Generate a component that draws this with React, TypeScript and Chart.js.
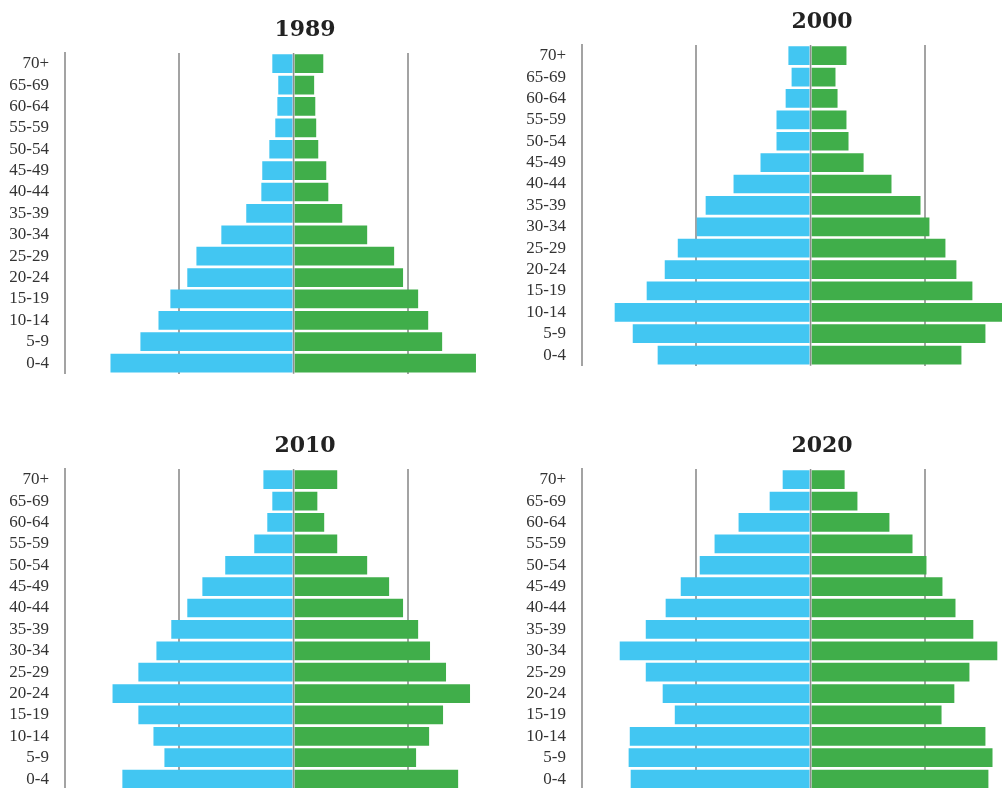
import React, { useEffect, useRef } from "react";
import { Chart, registerables } from "chart.js";

Chart.register(...registerables);

const ageGroups = ["0-4", "5-9", "10-14", "15-19", "20-24", "25-29", "30-34", "35-39", "40-44", "45-49", "50-54", "55-59", "60-64", "65-69", "70+"];

const years = ["1989", "2000", "2010", "2020"];

const male1989 = [8.01, 6.7, 5.91, 5.39, 4.65, 4.25, 3.16, 2.07, 1.41, 1.37, 1.06, 0.8, 0.71, 0.67, 0.93];
const female1989 = [7.98, 6.5, 5.89, 5.45, 4.79, 4.4, 3.22, 2.13, 1.52, 1.43, 1.08, 0.99, 0.95, 0.9, 1.3];
const male2000 = [6.69, 7.78, 8.57, 7.17, 6.38, 5.81, 4.98, 4.59, 3.37, 2.19, 1.49, 1.49, 1.09, 0.83, 0.97];
const female2000 = [6.6, 7.65, 8.6, 7.08, 6.38, 5.9, 5.2, 4.81, 3.54, 2.32, 1.66, 1.57, 1.18, 1.09, 1.57];
const male2010 = [7.49, 5.65, 6.13, 6.79, 7.92, 6.79, 6.0, 5.35, 4.65, 3.99, 2.99, 1.72, 1.15, 0.93, 1.32];
const female2010 = [7.2, 5.36, 5.93, 6.54, 7.72, 6.67, 5.97, 5.45, 4.79, 4.18, 3.22, 1.91, 1.34, 1.04, 1.91];
const male2020 = [7.87, 7.96, 7.91, 5.94, 6.47, 7.21, 8.35, 7.21, 6.34, 5.68, 4.85, 4.2, 3.15, 1.79, 1.22];
const female2020 = [7.78, 7.96, 7.65, 5.73, 6.29, 6.95, 8.17, 7.12, 6.34, 5.77, 5.07, 4.46, 3.45, 2.05, 1.49];

const xMin = -10;
const xMax = 11;
const gridStep = 5;

const BLUE = "#42c6f2";
const GREEN = "#40ae4a";
const GRID = "#a3a3a3";

const zeroLine = {
  id: "zeroLine",
  afterDatasetsDraw(chart: any) {
    const { ctx, chartArea } = chart;
    const x = chart.scales.x.getPixelForValue(0);
    ctx.save();
    ctx.strokeStyle = "#8e8e8e";
    ctx.lineWidth = 1.5;
    ctx.beginPath();
    ctx.moveTo(x, chartArea.top);
    ctx.lineTo(x, chartArea.bottom);
    ctx.stroke();
    ctx.restore();
  },
};

function Panel({ title, male, female, left, top }: any) {
  const ref = useRef<HTMLCanvasElement>(null);
  useEffect(() => {
    if (!ref.current) return;
    const chart = new Chart(ref.current, {
      type: "bar",
      data: {
        labels: ageGroups,
        datasets: [
          { label: "Male", data: male.map((v: number) => -v), backgroundColor: BLUE, borderWidth: 0 },
          { label: "Female", data: female, backgroundColor: GREEN, borderWidth: 0 },
        ],
      },
      options: {
        indexAxis: "y",
        responsive: false,
        animation: false,
        devicePixelRatio: 1,
        layout: { padding: 0 },
        datasets: { bar: { barPercentage: 0.875, categoryPercentage: 1 } },
        plugins: {
          legend: { display: false },
          tooltip: { enabled: false },
          title: {
            display: true,
            text: title,
            fullSize: false,
            color: "#222",
            font: { family: "'DejaVu Serif', serif", size: 22, weight: "bold" },
            padding: { top: 17, bottom: 9.6 },
          },
        },
        scales: {
          x: {
            type: "linear",
            min: xMin,
            max: xMax,
            stacked: true,
            ticks: { display: false, stepSize: gridStep },
            border: { display: false },
            grid: {
              drawTicks: false,
              lineWidth: 2,
              color: (c: any) => (c.tick && (c.tick.value === -gridStep || c.tick.value === gridStep) ? GRID : "rgba(0,0,0,0)"),
            },
            afterFit: (s: any) => {
              s.height = 0;
            },
          },
          y: {
            type: "category",
            stacked: true,
            reverse: true,
            grid: { display: false, drawTicks: false },
            border: { display: true, color: GRID, width: 2 },
            ticks: {
              padding: 16,
              color: "#333",
              font: { family: "'Liberation Serif', serif", size: 17 },
              autoSkip: false,
            },
            afterFit: (s: any) => {
              s.width = 65;
            },
          },
        },
      },
      plugins: [zeroLine],
    });
    return () => chart.destroy();
  }, []);
  return (
    <canvas
      ref={ref}
      width={545}
      height={400}
      style={{ position: "absolute", left, top, width: 545, height: 400 }}
    />
  );
}

export default function App() {
  return (
    <div style={{ position: "fixed", left: 0, top: 0, width: "100vw", height: "100vh", overflow: "hidden", background: "#fff" }}>
      <Panel title={years[0]} male={male1989} female={female1989} left={0} top={0} />
      <Panel title={years[1]} male={male2000} female={female2000} left={517} top={-8} />
      <Panel title={years[2]} male={male2010} female={female2010} left={0} top={416} />
      <Panel title={years[3]} male={male2020} female={female2020} left={517} top={416} />
    </div>
  );
}
